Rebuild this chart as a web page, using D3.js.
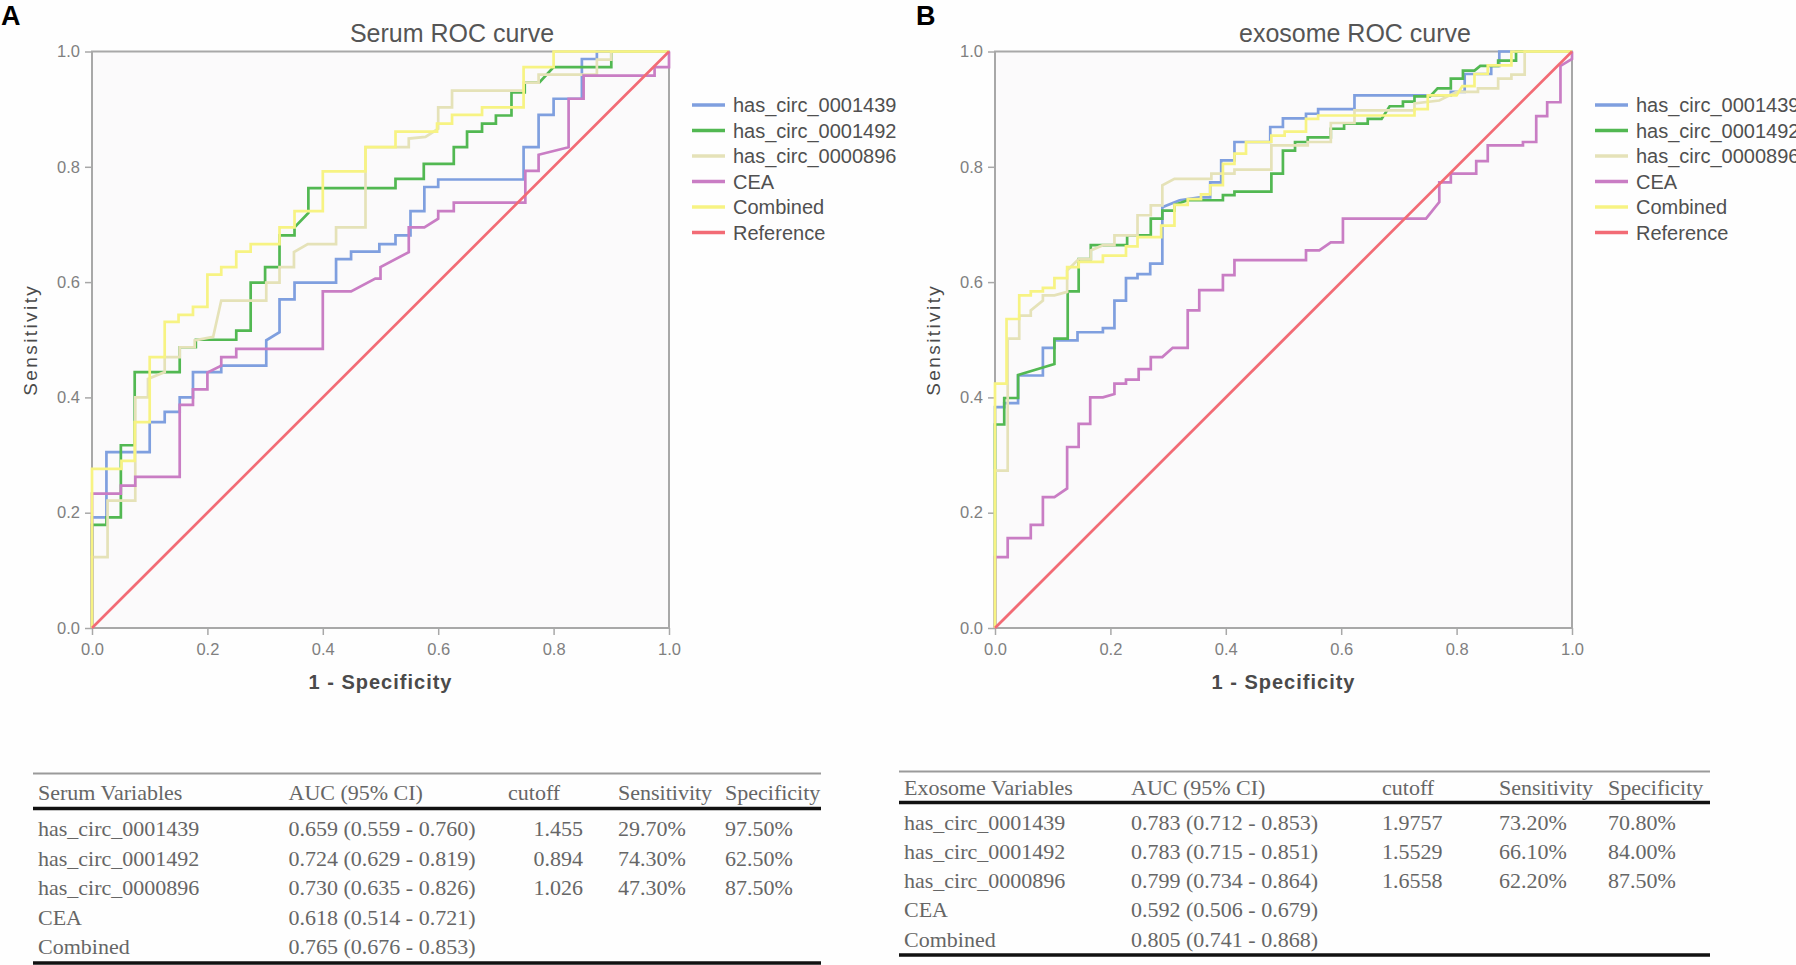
<!DOCTYPE html>
<html>
<head>
<meta charset="utf-8">
<script src="https://cdn.jsdelivr.net/npm/d3@7"></script>
<style>
  body { margin: 0; background: #fff; }
  svg { display: block; }
</style>
</head>
<body>
<svg id="chart" width="1796" height="965"></svg>
<script>
// legend / series
const seriesNames = ["has_circ_0001439", "has_circ_0001492", "has_circ_0000896", "CEA", "Combined", "Reference"];
const seriesColors = ["#7f9fdf", "#52b852", "#e5e2b8", "#c97dc4", "#f7f383", "#f26b75"];
const tickValues = [0, 0.2, 0.4, 0.6, 0.8, 1.0];
const reference = [[0, 0], [1, 1]];

// serum ROC points [1 - specificity, sensitivity]
const serum1439 = [[0,0],[0,0.192],[0.025,0.192],[0.025,0.305],[0.1,0.305],[0.1,0.357],[0.126,0.357],[0.126,0.375],[0.152,0.375],[0.152,0.40],[0.175,0.40],[0.175,0.444],[0.224,0.444],[0.224,0.455],[0.302,0.455],[0.302,0.499],[0.325,0.513],[0.325,0.57],[0.351,0.57],[0.351,0.599],[0.423,0.599],[0.423,0.64],[0.449,0.64],[0.449,0.653],[0.498,0.653],[0.498,0.666],[0.526,0.666],[0.526,0.681],[0.552,0.681],[0.552,0.723],[0.576,0.723],[0.576,0.765],[0.6,0.765],[0.6,0.778],[0.748,0.778],[0.748,0.834],[0.774,0.834],[0.774,0.89],[0.8,0.89],[0.8,0.918],[0.849,0.918],[0.849,0.987],[0.875,0.987],[0.875,1],[1,1]];
const serum1492 = [[0,0],[0,0.179],[0.025,0.179],[0.025,0.192],[0.05,0.192],[0.05,0.317],[0.074,0.317],[0.074,0.444],[0.152,0.444],[0.152,0.487],[0.18,0.487],[0.18,0.5],[0.25,0.5],[0.25,0.516],[0.275,0.516],[0.275,0.599],[0.3,0.599],[0.3,0.626],[0.325,0.626],[0.325,0.681],[0.351,0.681],[0.351,0.695],[0.375,0.72],[0.375,0.763],[0.526,0.763],[0.526,0.779],[0.575,0.779],[0.575,0.805],[0.627,0.805],[0.627,0.834],[0.65,0.834],[0.65,0.861],[0.676,0.861],[0.676,0.875],[0.7,0.875],[0.7,0.889],[0.727,0.889],[0.727,0.929],[0.75,0.929],[0.75,0.946],[0.775,0.946],[0.8,0.973],[0.9,0.973],[0.9,1],[1,1]];
const serum0896 = [[0,0],[0,0.123],[0.027,0.123],[0.027,0.221],[0.075,0.221],[0.075,0.40],[0.097,0.40],[0.097,0.432],[0.126,0.444],[0.126,0.47],[0.152,0.47],[0.152,0.487],[0.178,0.487],[0.178,0.499],[0.21,0.505],[0.224,0.568],[0.302,0.568],[0.302,0.599],[0.325,0.599],[0.325,0.626],[0.35,0.626],[0.35,0.652],[0.374,0.666],[0.423,0.666],[0.423,0.695],[0.474,0.695],[0.474,0.834],[0.549,0.834],[0.549,0.849],[0.578,0.852],[0.6,0.866],[0.6,0.903],[0.624,0.903],[0.624,0.932],[0.748,0.932],[0.748,0.946],[0.774,0.946],[0.774,0.96],[0.875,0.96],[0.875,0.986],[0.9,0.986],[0.9,1],[1,1]];
const serumCEA = [[0,0],[0,0.233],[0.05,0.233],[0.05,0.247],[0.075,0.247],[0.075,0.262],[0.152,0.262],[0.152,0.387],[0.175,0.387],[0.175,0.414],[0.2,0.414],[0.2,0.443],[0.224,0.455],[0.224,0.47],[0.25,0.47],[0.25,0.484],[0.4,0.484],[0.4,0.584],[0.449,0.584],[0.491,0.606],[0.5,0.606],[0.5,0.626],[0.549,0.652],[0.549,0.695],[0.576,0.695],[0.6,0.71],[0.6,0.723],[0.627,0.723],[0.627,0.738],[0.751,0.738],[0.751,0.793],[0.774,0.793],[0.774,0.821],[0.826,0.834],[0.826,0.918],[0.852,0.918],[0.852,0.958],[0.975,0.958],[0.975,0.973],[1,0.973],[1,1]];
const serumCombined = [[0,0],[0,0.276],[0.051,0.276],[0.051,0.29],[0.074,0.29],[0.074,0.357],[0.1,0.357],[0.1,0.47],[0.126,0.47],[0.126,0.531],[0.15,0.531],[0.15,0.543],[0.175,0.543],[0.175,0.557],[0.2,0.557],[0.2,0.613],[0.224,0.613],[0.224,0.626],[0.25,0.626],[0.25,0.653],[0.275,0.653],[0.275,0.666],[0.325,0.666],[0.325,0.695],[0.351,0.695],[0.351,0.723],[0.4,0.723],[0.4,0.792],[0.474,0.792],[0.474,0.834],[0.526,0.834],[0.526,0.861],[0.598,0.861],[0.598,0.875],[0.624,0.875],[0.624,0.89],[0.676,0.89],[0.676,0.903],[0.748,0.903],[0.748,0.973],[0.8,0.973],[0.8,1],[1,1]];

// exosome ROC points
const exo1439 = [[0,0],[0,0.383],[0.016,0.383],[0.016,0.39],[0.04,0.39],[0.04,0.438],[0.083,0.438],[0.083,0.486],[0.103,0.486],[0.103,0.499],[0.143,0.499],[0.143,0.513],[0.187,0.513],[0.187,0.52],[0.207,0.52],[0.207,0.568],[0.227,0.568],[0.227,0.607],[0.247,0.607],[0.247,0.614],[0.269,0.614],[0.269,0.632],[0.29,0.632],[0.29,0.73],[0.32,0.742],[0.355,0.747],[0.373,0.747],[0.373,0.773],[0.392,0.773],[0.392,0.811],[0.415,0.811],[0.415,0.843],[0.477,0.843],[0.477,0.869],[0.499,0.869],[0.499,0.884],[0.539,0.884],[0.539,0.892],[0.56,0.892],[0.56,0.9],[0.623,0.9],[0.623,0.924],[0.79,0.924],[0.79,0.93],[0.814,0.93],[0.814,0.961],[0.86,0.961],[0.86,0.975],[0.874,0.975],[0.874,1],[1,1]];
const exo1492 = [[0,0],[0,0.353],[0.016,0.353],[0.016,0.399],[0.04,0.399],[0.04,0.439],[0.083,0.452],[0.103,0.458],[0.103,0.502],[0.126,0.502],[0.126,0.584],[0.145,0.584],[0.145,0.64],[0.166,0.64],[0.166,0.664],[0.229,0.664],[0.229,0.681],[0.27,0.681],[0.27,0.71],[0.29,0.71],[0.29,0.724],[0.311,0.724],[0.311,0.734],[0.334,0.742],[0.395,0.742],[0.395,0.751],[0.415,0.751],[0.415,0.757],[0.479,0.757],[0.479,0.788],[0.499,0.788],[0.499,0.828],[0.52,0.828],[0.52,0.843],[0.542,0.843],[0.542,0.851],[0.582,0.851],[0.582,0.866],[0.605,0.866],[0.605,0.875],[0.646,0.875],[0.646,0.883],[0.67,0.883],[0.684,0.905],[0.707,0.905],[0.707,0.913],[0.727,0.913],[0.727,0.922],[0.754,0.922],[0.767,0.936],[0.79,0.936],[0.79,0.953],[0.811,0.953],[0.811,0.967],[0.831,0.967],[0.841,0.975],[0.872,0.975],[0.872,0.984],[0.903,0.984],[0.903,1],[1,1]];
const exo0896 = [[0,0],[0,0.273],[0.022,0.273],[0.022,0.502],[0.042,0.502],[0.042,0.542],[0.062,0.542],[0.062,0.551],[0.083,0.568],[0.083,0.577],[0.103,0.577],[0.125,0.583],[0.125,0.62],[0.145,0.64],[0.166,0.64],[0.166,0.655],[0.187,0.664],[0.207,0.664],[0.207,0.681],[0.247,0.681],[0.247,0.716],[0.27,0.716],[0.27,0.733],[0.29,0.733],[0.29,0.768],[0.311,0.779],[0.375,0.779],[0.375,0.788],[0.415,0.788],[0.415,0.795],[0.479,0.795],[0.479,0.837],[0.542,0.837],[0.542,0.843],[0.582,0.843],[0.582,0.876],[0.623,0.876],[0.623,0.898],[0.727,0.898],[0.727,0.91],[0.77,0.915],[0.8,0.93],[0.837,0.93],[0.837,0.936],[0.872,0.936],[0.872,0.953],[0.895,0.953],[0.895,0.96],[0.918,0.96],[0.918,1],[1,1]];
const exoCEA = [[0,0],[0,0.123],[0.022,0.123],[0.022,0.156],[0.062,0.156],[0.062,0.179],[0.083,0.179],[0.083,0.227],[0.103,0.227],[0.125,0.242],[0.125,0.314],[0.145,0.314],[0.145,0.354],[0.165,0.354],[0.165,0.40],[0.187,0.40],[0.207,0.406],[0.207,0.424],[0.227,0.424],[0.227,0.431],[0.249,0.431],[0.249,0.449],[0.27,0.449],[0.27,0.47],[0.29,0.47],[0.308,0.486],[0.334,0.486],[0.334,0.551],[0.354,0.551],[0.354,0.586],[0.395,0.586],[0.395,0.612],[0.415,0.612],[0.415,0.638],[0.539,0.638],[0.539,0.655],[0.562,0.655],[0.582,0.669],[0.603,0.669],[0.603,0.71],[0.747,0.71],[0.77,0.739],[0.77,0.773],[0.79,0.773],[0.79,0.788],[0.834,0.788],[0.834,0.81],[0.854,0.81],[0.854,0.837],[0.915,0.837],[0.915,0.843],[0.938,0.843],[0.938,0.888],[0.957,0.888],[0.957,0.912],[0.98,0.912],[0.98,0.975],[1,0.987],[1,1]];
const exoCombined = [[0,0],[0,0.424],[0.02,0.424],[0.02,0.536],[0.042,0.536],[0.042,0.577],[0.062,0.577],[0.062,0.584],[0.083,0.584],[0.083,0.59],[0.103,0.59],[0.103,0.607],[0.125,0.607],[0.125,0.626],[0.145,0.626],[0.145,0.635],[0.187,0.635],[0.187,0.646],[0.227,0.646],[0.227,0.662],[0.247,0.662],[0.247,0.678],[0.288,0.678],[0.288,0.698],[0.311,0.698],[0.311,0.734],[0.334,0.734],[0.334,0.744],[0.357,0.744],[0.357,0.752],[0.373,0.752],[0.373,0.768],[0.395,0.768],[0.395,0.805],[0.415,0.805],[0.415,0.823],[0.435,0.823],[0.435,0.843],[0.479,0.843],[0.479,0.854],[0.502,0.854],[0.502,0.861],[0.539,0.861],[0.539,0.883],[0.56,0.883],[0.56,0.889],[0.727,0.889],[0.727,0.9],[0.75,0.9],[0.75,0.924],[0.8,0.924],[0.81,0.94],[0.831,0.94],[0.831,0.961],[0.854,0.961],[0.854,0.976],[0.895,0.976],[0.895,1],[1,1]];

// tables
const serumHeader = ["Serum Variables", "AUC (95% CI)", "cutoff", "Sensitivity", "Specificity"];
const serumRows = [
  ["has_circ_0001439", "0.659 (0.559 - 0.760)", "1.455", "29.70%", "97.50%"],
  ["has_circ_0001492", "0.724 (0.629 - 0.819)", "0.894", "74.30%", "62.50%"],
  ["has_circ_0000896", "0.730 (0.635 - 0.826)", "1.026", "47.30%", "87.50%"],
  ["CEA", "0.618 (0.514 - 0.721)", "", "", ""],
  ["Combined", "0.765 (0.676 - 0.853)", "", "", ""]
];
const exoHeader = ["Exosome Variables", "AUC (95% CI)", "cutoff", "Sensitivity", "Specificity"];
const exoRows = [
  ["has_circ_0001439", "0.783 (0.712 - 0.853)", "1.9757", "73.20%", "70.80%"],
  ["has_circ_0001492", "0.783 (0.715 - 0.851)", "1.5529", "66.10%", "84.00%"],
  ["has_circ_0000896", "0.799 (0.734 - 0.864)", "1.6558", "62.20%", "87.50%"],
  ["CEA", "0.592 (0.506 - 0.679)", "", "", ""],
  ["Combined", "0.805 (0.741 - 0.868)", "", "", ""]
];

const svg = d3.select("#chart");
svg.append("rect").attr("width", 1796).attr("height", 965).attr("fill", "#fefefe");

const SANS = "'Liberation Sans', Arial, sans-serif";
const SERIF = "'Liberation Serif', 'Times New Roman', serif";

function drawPanel(left, letter, letterX, title, curves) {
  const top = 51.5, w = 577, h = 576.5;
  const x = d3.scaleLinear().domain([0, 1]).range([left, left + w]);
  const y = d3.scaleLinear().domain([0, 1]).range([top + h, top]);

  svg.append("text").attr("x", letterX).attr("y", 25)
    .attr("font-family", SANS).attr("font-weight", "bold").attr("font-size", 27)
    .attr("fill", "#000").text(letter);

  svg.append("text").attr("x", left + 360).attr("y", 42).attr("text-anchor", "middle")
    .attr("font-family", SANS).attr("font-size", 25).attr("fill", "#555").text(title);

  svg.append("rect").attr("x", left).attr("y", top).attr("width", w).attr("height", h)
    .attr("fill", "#fbfafb").attr("stroke", "#a8a8a8").attr("stroke-width", 2);

  const yAxis = svg.append("g").attr("transform", `translate(${left},0)`)
    .call(d3.axisLeft(y).tickValues(tickValues).tickFormat(d3.format(".1f")).tickSize(7).tickPadding(5));
  const xAxis = svg.append("g").attr("transform", `translate(0,${top + h})`)
    .call(d3.axisBottom(x).tickValues(tickValues).tickFormat(d3.format(".1f")).tickSize(7).tickPadding(8));
  [yAxis, xAxis].forEach(g => {
    g.select(".domain").remove();
    g.selectAll("line").attr("stroke", "#a8a8a8").attr("stroke-width", 1.5);
    g.selectAll("text").attr("font-family", SANS).attr("font-size", 16.5).attr("fill", "#808080");
  });

  svg.append("text").attr("x", left + w / 2).attr("y", 689).attr("text-anchor", "middle")
    .attr("font-family", SANS).attr("font-size", 20).attr("font-weight", "bold")
    .attr("letter-spacing", 1).attr("fill", "#4a4a4a").text("1 - Specificity");

  svg.append("text").attr("transform", `translate(${left - 55},${top + h / 2}) rotate(-90)`)
    .attr("text-anchor", "middle").attr("font-family", SANS).attr("font-size", 19)
    .attr("letter-spacing", 2.4).attr("fill", "#4a4a4a").text("Sensitivity");

  const line = d3.line().x(d => x(d[0])).y(d => y(d[1]));
  svg.append("g").selectAll("path").data(curves).enter().append("path")
    .attr("d", d => line(d))
    .attr("fill", "none")
    .attr("stroke", (d, i) => seriesColors[i])
    .attr("stroke-width", 2.7)
    .attr("stroke-linejoin", "miter");

  const legend = svg.append("g").selectAll("g").data(seriesNames).enter().append("g")
    .attr("transform", (d, i) => `translate(${left + 600},${105 + i * 25.5})`);
  legend.append("line").attr("x1", 0).attr("x2", 33)
    .attr("stroke", (d, i) => seriesColors[i]).attr("stroke-width", 3.5);
  legend.append("text").attr("x", 41).attr("y", 7)
    .attr("font-family", SANS).attr("font-size", 20).attr("fill", "#505050").text(d => d);
}

function drawTable(header, rows, cols, rules, headY, rowYs) {
  const g = svg.append("g").attr("font-family", SERIF).attr("font-size", 22).attr("fill", "#666");
  g.append("line").attr("x1", rules.x0).attr("x2", rules.x1).attr("y1", rules.top).attr("y2", rules.top)
    .attr("stroke", "#9a9a9a").attr("stroke-width", 2);
  g.append("line").attr("x1", rules.x0).attr("x2", rules.x1).attr("y1", rules.mid).attr("y2", rules.mid)
    .attr("stroke", "#111").attr("stroke-width", 3.5);
  g.append("line").attr("x1", rules.x0).attr("x2", rules.x1).attr("y1", rules.bottom).attr("y2", rules.bottom)
    .attr("stroke", "#111").attr("stroke-width", 3.5);

  header.forEach((t, j) => {
    g.append("text").attr("x", cols[j].head).attr("y", headY).text(t);
  });
  rows.forEach((r, i) => {
    r.forEach((t, j) => {
      if (!t) return;
      g.append("text").attr("x", cols[j].x).attr("y", rowYs[i])
        .attr("text-anchor", cols[j].anchor || "start").text(t);
    });
  });
}

drawPanel(92, "A", 1, "Serum ROC curve", [serum1439, serum1492, serum0896, serumCEA, serumCombined, reference]);
drawPanel(995, "B", 916, "exosome ROC curve", [exo1439, exo1492, exo0896, exoCEA, exoCombined, reference]);

drawTable(serumHeader, serumRows,
  [{head: 38, x: 38}, {head: 288.5, x: 288.5}, {head: 508, x: 583, anchor: "end"}, {head: 618, x: 618}, {head: 725, x: 725}],
  {x0: 33, x1: 821, top: 773.5, mid: 808.5, bottom: 963},
  800, [836, 865.5, 895, 924.5, 954]);

drawTable(exoHeader, exoRows,
  [{head: 904, x: 904}, {head: 1131, x: 1131}, {head: 1382, x: 1382}, {head: 1499, x: 1499}, {head: 1608, x: 1608}],
  {x0: 899, x1: 1710, top: 771.5, mid: 802.5, bottom: 955},
  794.5, [829.5, 858.5, 888, 917, 947]);
</script>
</body>
</html>
